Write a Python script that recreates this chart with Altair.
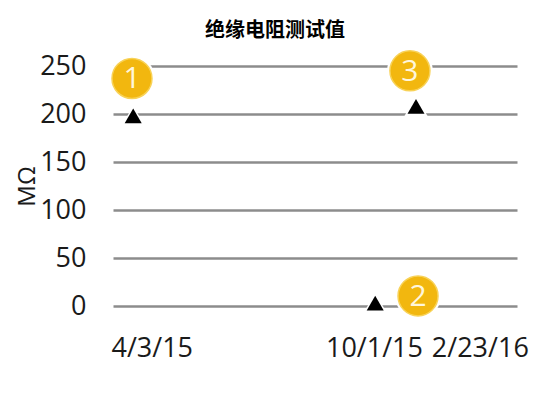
import altair as alt
import pandas as pd

chart_title = "绝缘电阻测试值"

# Axis categories (test dates) and their position on the timeline
date_labels = ["4/3/15", "10/1/15", "2/23/16"]
date_positions = [9.6, 64.6, 90.8]

# Measured insulation resistance (MΩ) at each test
test_positions = [5.0, 64.9, 75.0]
test_values = [198, 3, 208]

# Numbered callouts
callout_ids = ["1", "2", "3"]
callout_positions = [4.7, 75.5, 73.5]
callout_values = [237, 10.5, 245]

y_ticks = [0, 50, 100, 150, 200, 250]

tests = pd.DataFrame({"pos": test_positions, "value": test_values})
callouts = pd.DataFrame({"pos": callout_positions, "value": callout_values, "id": callout_ids})
title_df = pd.DataFrame({"t": [chart_title]})

label_expr = " : ".join(
    f"datum.value == {p} ? '{t}'" for p, t in zip(date_positions[:-1], date_labels[:-1])
) + f" : '{date_labels[-1]}'"

x_scale = alt.Scale(domain=[0, 100], nice=False, zero=False)
y_scale = alt.Scale(domain=[0, 250], nice=False, zero=True)

x_axis = alt.Axis(
    values=date_positions, labelExpr=label_expr, title=None, grid=False,
    domain=False, ticks=False, labelFont="Open Sans", labelFontSize=27,
    labelColor="#1a1a1a", labelPadding=29, labelOverlap=False,
    labelBound=False, labelFlush=False,
)
y_axis = alt.Axis(
    values=y_ticks, grid=True, gridColor="#8c8c8c", gridWidth=2.5,
    domain=False, ticks=False, labelFont="Open Sans", labelFontSize=27,
    labelColor="#1a1a1a", labelPadding=27, title="MΩ",
    titleFont="Open Sans", titleFontSize=24, titleFontWeight="normal",
    titleColor="#1a1a1a", titlePadding=0,
)

X = alt.X("pos:Q", scale=x_scale, axis=x_axis)
Y = alt.Y("value:Q", scale=y_scale, axis=y_axis)

tri_halo = alt.Chart(tests).mark_point(
    shape="triangle-up", filled=True, color="white", size=560, opacity=1
).encode(x=X, y=Y)

tri = alt.Chart(tests).mark_point(
    shape="triangle-up", filled=True, color="black", size=290, opacity=1
).encode(x=X, y=Y)

circ_halo = alt.Chart(callouts).mark_circle(
    color="white", size=2100, opacity=1
).encode(x=X, y=Y)

circ = alt.Chart(callouts).mark_circle(
    color="#F2B70F", size=1600, opacity=1, stroke="#F8D257", strokeWidth=1.5
).encode(x=X, y=Y)

circ_text = alt.Chart(callouts).mark_text(
    font="Open Sans", fontSize=30, color="#FFF6DC", baseline="middle", align="center", dy=1
).encode(x=X, y=Y, text="id:N")

title_text = alt.Chart(title_df).mark_text(
    font="Noto Sans CJK SC", fontSize=20, fontWeight="bold", color="#000000",
    align="center", baseline="middle",
).encode(x=alt.value(162), y=alt.value(-35), text="t:N")

chart = alt.layer(tri_halo, tri, circ_halo, circ, circ_text, title_text).properties(
    width=404,
    height=240,
    background="white",
    autosize=alt.AutoSizeParams(type="none"),
    padding={"left": 105, "top": 58, "right": 20, "bottom": 60},
).configure_view(stroke=None)

chart.save("out.html", embed_options={"renderer": "svg", "actions": False})
